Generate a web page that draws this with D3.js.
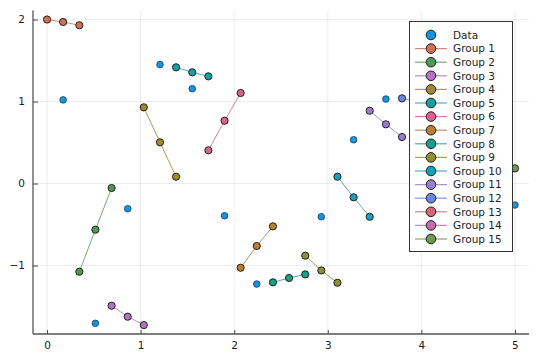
<!DOCTYPE html>
<html>
<head>
<meta charset="utf-8">
<script src="https://cdn.jsdelivr.net/npm/d3@7"></script>
<style>
  html, body { margin: 0; padding: 0; background: #fff; }
  svg { display: block; font-family: "DejaVu Sans", sans-serif; }
</style>
</head>
<body>
<div id="chart"></div>
<script>
// ---------------------------------------------------------------------------
// Data
// ---------------------------------------------------------------------------
const xTicks = [0, 1, 2, 3, 4, 5];
const yTicks = [-1, 0, 1, 2];

const dataX = [0.172, 0.517, 0.862, 1.207, 1.552, 1.897, 2.241, 2.931, 3.276, 3.621, 5.0];
const dataY = [1.02, -1.705, -0.307, 1.45, 1.156, -0.393, -1.226, -0.405, 0.534, 1.03, -0.262];

const groupNames = ["Group 1", "Group 2", "Group 3", "Group 4", "Group 5", "Group 6", "Group 7",
  "Group 8", "Group 9", "Group 10", "Group 11", "Group 12", "Group 13", "Group 14", "Group 15"];

const groupX = [
  [0, 0.172, 0.345],
  [0.345, 0.517, 0.69],
  [0.69, 0.862, 1.034],
  [1.034, 1.207, 1.379],
  [1.379, 1.552, 1.724],
  [1.724, 1.897, 2.069],
  [2.069, 2.241, 2.414],
  [2.414, 2.586, 2.759],
  [2.759, 2.931, 3.103],
  [3.103, 3.276, 3.448],
  [3.448, 3.621, 3.793],
  [3.793, 3.966, 4.138],
  [4.138, 4.31, 4.483],
  [4.483, 4.655, 4.828],
  [4.828, 5.0],
];
// groups 12-15 are mostly behind the legend; hidden values are estimates
const groupY = [
  [2.0, 1.97, 1.93],
  [-1.075, -0.563, -0.055],
  [-1.49, -1.624, -1.726],
  [0.929, 0.502, 0.083],
  [1.417, 1.356, 1.307],
  [0.405, 0.766, 1.104],
  [-1.027, -0.762, -0.522],
  [-1.205, -1.152, -1.108],
  [-0.88, -1.06, -1.21],
  [0.083, -0.168, -0.405],
  [0.888, 0.722, 0.567],
  [1.039, 1.0, 0.95],
  [0.6, 0.4, 0.2],
  [-0.2, 0.1, 0.4],
  [0.3, 0.185],
];

const dataColor = "#009AFA";
const groupColors = ["#E36F47", "#3EA44E", "#C371D2", "#AC8E18", "#00AAAE", "#ED5E93", "#C68225",
  "#00A98D", "#8E971D", "#00A9CA", "#9B7FE9", "#618DF6", "#F06073", "#DD65B5", "#6D9E45"];

// muted versions: markers a bit greyer, lines greyish and light
const markerColor = c => d3.interpolateRgb(c, "#777")(0.18);
const lineColor = c => d3.interpolateRgb(c, "#888")(0.4);

// ---------------------------------------------------------------------------
// Layout
// ---------------------------------------------------------------------------
const width = 540, height = 360;
const plot = { left: 33, right: 529, top: 10.5, bottom: 334 };

const x = d3.scaleLinear().domain([-0.15, 5.15]).range([plot.left, plot.right]);
const y = d3.scaleLinear().domain([-1.835, 2.11]).range([plot.bottom, plot.top]);

const svg = d3.select("#chart").append("svg")
  .attr("width", width)
  .attr("height", height);

// grid
const grid = svg.append("g");
grid.selectAll(".gx").data(xTicks).join("line")
  .attr("x1", d => x(d)).attr("x2", d => x(d))
  .attr("y1", plot.top).attr("y2", plot.bottom)
  .attr("stroke", "#000").attr("stroke-opacity", 0.07).attr("stroke-width", 1);
grid.selectAll(".gy").data(yTicks).join("line")
  .attr("y1", d => y(d)).attr("y2", d => y(d))
  .attr("x1", plot.left).attr("x2", plot.right)
  .attr("stroke", "#000").attr("stroke-opacity", 0.07).attr("stroke-width", 1);

// axes (ticks point inward, like GR)
const fmt = d => d < 0 ? "\u2212" + Math.abs(d) : String(d);
const xAxis = svg.append("g").attr("transform", `translate(0,${plot.bottom})`)
  .call(d3.axisBottom(x).tickValues(xTicks).tickSizeInner(-4).tickSizeOuter(0).tickPadding(8).tickFormat(fmt));
const yAxis = svg.append("g").attr("transform", `translate(${plot.left},0)`)
  .call(d3.axisLeft(y).tickValues(yTicks).tickSizeInner(-5).tickSizeOuter(0).tickPadding(8).tickFormat(fmt));
for (const ax of [xAxis, yAxis]) {
  ax.select(".domain").attr("stroke", "#555").attr("stroke-width", 1.3);
  ax.selectAll(".tick line").attr("stroke", "#444").attr("stroke-width", 1);
  ax.selectAll(".tick text").attr("fill", "#222").style("font-size", "10.5px")
    .style("font-family", "'DejaVu Sans', sans-serif");
}
xAxis.select(".domain").attr("d", `M${plot.left},0H${plot.right}`);
yAxis.select(".domain").attr("d", `M0,${plot.bottom}V${plot.top}`);

// data scatter
const dataPts = dataX.map((v, i) => ({ x: v, y: dataY[i] }));
svg.append("g").selectAll("circle").data(dataPts).join("circle")
  .attr("cx", d => x(d.x)).attr("cy", d => y(d.y)).attr("r", 3.3)
  .attr("fill", markerColor(dataColor)).attr("stroke", "#1a3a55").attr("stroke-width", 0.8);

// groups
const line = d3.line().x(d => x(d.x)).y(d => y(d.y));
groupNames.forEach((name, gi) => {
  const pts = groupX[gi].map((v, i) => ({ x: v, y: groupY[gi][i] }));
  const g = svg.append("g");
  g.append("path").attr("d", line(pts))
    .attr("fill", "none").attr("stroke", lineColor(groupColors[gi]))
    .attr("stroke-opacity", 0.85).attr("stroke-width", 1);
  g.selectAll("circle").data(pts).join("circle")
    .attr("cx", d => x(d.x)).attr("cy", d => y(d.y)).attr("r", 3.6)
    .attr("fill", markerColor(groupColors[gi]))
    .attr("stroke", "#222").attr("stroke-width", 1);
});

// legend
const legend = svg.append("g");
legend.append("rect")
  .attr("x", 409.5).attr("y", 21.5).attr("width", 103).attr("height", 230)
  .attr("fill", "#fff").attr("stroke", "#333").attr("stroke-width", 1);

const entries = [{ name: "Data", color: dataColor, hasLine: false }]
  .concat(groupNames.map((n, i) => ({ name: n, color: groupColors[i], hasLine: true })));
const rowY = i => 35 + i * 13.6;
entries.forEach((e, i) => {
  const row = legend.append("g").attr("transform", `translate(0,${rowY(i)})`);
  if (e.hasLine) {
    row.append("line").attr("x1", 415).attr("x2", 447).attr("y1", 0).attr("y2", 0)
      .attr("stroke", lineColor(e.color)).attr("stroke-opacity", 0.85).attr("stroke-width", 1.2);
  }
  row.append("circle").attr("cx", 431).attr("cy", 0).attr("r", 4.8)
    .attr("fill", markerColor(e.color)).attr("stroke", "#222").attr("stroke-width", 1);
  row.append("text").attr("x", 453).attr("y", 3.8)
    .attr("fill", "#222").style("font-size", "10.5px").text(e.name);
});
</script>
</body>
</html>
